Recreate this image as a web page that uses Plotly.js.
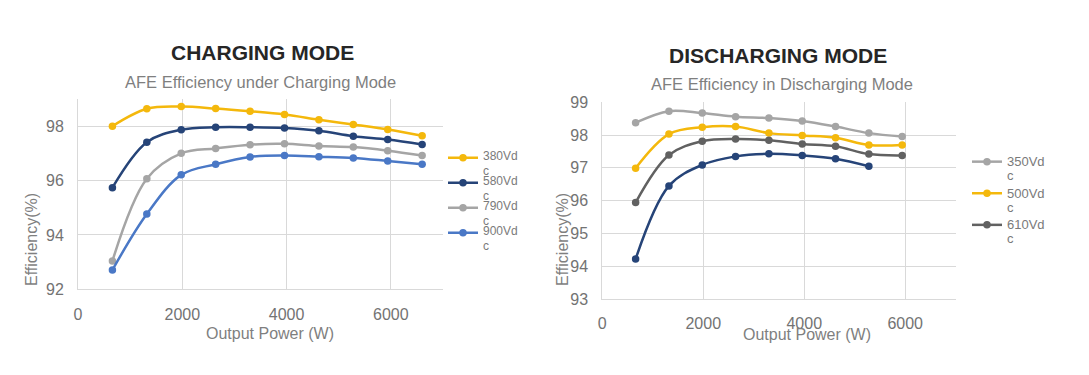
<!DOCTYPE html>
<html>
<head>
<meta charset="utf-8">
<script src="https://cdn.plot.ly/plotly-3.0.1.min.js"></script>
<style>html,body{margin:0;padding:0;background:#fff;}#chart{width:1089px;height:375px;}</style>
</head>
<body>
<div id="chart"></div>
<script>
// ---- Data ----
const chgPower = [660, 1320, 1980, 2640, 3300, 3960, 4620, 5280, 5940, 6600];
const chg380 = [98.00, 98.64, 98.72, 98.65, 98.55, 98.43, 98.24, 98.06, 97.88, 97.65];
const chg580 = [95.74, 97.41, 97.87, 97.96, 97.96, 97.93, 97.83, 97.63, 97.51, 97.33];
const chg790 = [93.04, 96.07, 97.00, 97.18, 97.32, 97.35, 97.27, 97.23, 97.10, 96.92];
const chg900 = [92.71, 94.77, 96.21, 96.60, 96.87, 96.92, 96.88, 96.83, 96.72, 96.60];

const disPower = [660, 1320, 1980, 2640, 3300, 3960, 4620, 5280, 5940];
const dis350 = [98.38, 98.73, 98.67, 98.56, 98.52, 98.43, 98.26, 98.06, 97.96];
const dis500 = [96.99, 98.03, 98.24, 98.26, 98.06, 97.99, 97.92, 97.70, 97.70];
const dis610 = [95.94, 97.39, 97.81, 97.88, 97.84, 97.73, 97.66, 97.42, 97.38];
const disUnlabeled = [94.22, 96.45, 97.09, 97.35, 97.43, 97.38, 97.28, 97.05];

const chgNames = ['380Vd', '580Vd', '790Vd', '900Vd'];
const disNames = ['350Vd', '500Vd', '610Vd'];
const nameTail = 'c';
const xTicks = [0, 2000, 4000, 6000];

// ---- Styling ----
const W = 1089, H = 375;
const px = v => v / W, py = v => 1 - v / H;
const YEL = '#F4B80C', NAVY = '#264478', GRAY = '#A5A5A5', BLUE = '#4A78C6', DGRAY = '#616161';

function legName(n, size, gapLine) {
  const s = '<span style="font-size:' + size + 'px">';
  return s + n + '</span><br>' + (gapLine ? '<br>' : '') + s + nameTail + '</span>';
}

function tr(x, y, name, color, xa, ya, leg, show) {
  return {
    x: x, y: y, name: name, type: 'scatter', mode: 'lines+markers',
    line: {color: color, width: 2.5, shape: 'spline', smoothing: 1},
    marker: {color: color, size: 7.5},
    xaxis: xa, yaxis: ya, legend: leg, showlegend: show, hoverinfo: 'skip'
  };
}

const data = [
  tr(chgPower, chg380, legName(chgNames[0], 12, true), YEL, 'x', 'y', 'legend', true),
  tr(chgPower, chg580, legName(chgNames[1], 12, true), NAVY, 'x', 'y', 'legend', true),
  tr(chgPower, chg790, legName(chgNames[2], 12, true), GRAY, 'x', 'y', 'legend', true),
  tr(chgPower, chg900, legName(chgNames[3], 12, true), BLUE, 'x', 'y', 'legend', true),
  tr(disPower, dis350, legName(disNames[0], 13, false), GRAY, 'x2', 'y2', 'legend2', true),
  tr(disPower, dis500, legName(disNames[1], 13, false), YEL, 'x2', 'y2', 'legend2', true),
  tr(disPower, dis610, legName(disNames[2], 13, false), DGRAY, 'x2', 'y2', 'legend2', true),
  tr(disPower.slice(0, disUnlabeled.length), disUnlabeled, 'dc', NAVY, 'x2', 'y2', 'legend2', false)
];

const FONT = 'Liberation Sans, Arial, sans-serif';
const tickFont = {family: FONT, size: 16, color: '#737373'};
const GRID = '#D9D9D9';

function xax(dom) {
  return {domain: dom, range: [0, 7000], tickvals: xTicks, ticktext: xTicks.map(String),
    showgrid: true, gridcolor: GRID, gridwidth: 1, zeroline: false,
    showline: true, linecolor: GRID, linewidth: 1, ticks: '', ticklabelstandoff: 10,
    tickfont: tickFont, fixedrange: true};
}
function yax(dom, range, dtick, anchor) {
  return {domain: dom, range: range, dtick: dtick, tick0: 0, anchor: anchor,
    showgrid: true, gridcolor: GRID, gridwidth: 1, zeroline: false,
    showline: true, linecolor: GRID, linewidth: 1, ticks: '', ticklabelstandoff: 10,
    tickfont: tickFont, fixedrange: true};
}

function ann(text, x, y, size, color, bold, angle) {
  return {text: bold ? '<b>' + text + '</b>' : text, x: px(x), y: py(y), xref: 'paper', yref: 'paper',
    xanchor: 'center', yanchor: 'middle', showarrow: false, textangle: angle || 0,
    font: {family: FONT, size: size, color: color}};
}

const layout = {
  width: W, height: H,
  margin: {l: 0, r: 0, t: 0, b: 0},
  paper_bgcolor: '#fff', plot_bgcolor: '#fff',
  xaxis: Object.assign(xax([px(78), px(443)]), {anchor: 'y'}),
  yaxis: yax([py(289.3), py(99)], [92, 99], 2, 'x'),
  xaxis2: Object.assign(xax([px(602.3), px(955.7)]), {anchor: 'y2'}),
  yaxis2: yax([py(299), py(102.3)], [93, 99], 1, 'x2'),
  legend: {x: px(443), y: py(147.5), xanchor: 'left', yanchor: 'top', valign: 'top',
    font: {family: FONT, size: 5.65, color: '#7a7a7a'}, bgcolor: 'rgba(0,0,0,0)', itemwidth: 30},
  legend2: {x: px(967), y: py(148), xanchor: 'left', yanchor: 'top', valign: 'top',
    font: {family: FONT, size: 11, color: '#7a7a7a'}, bgcolor: 'rgba(0,0,0,0)', itemwidth: 30},
  annotations: [
    ann('CHARGING MODE', 262, 53, 21, '#262626', true),
    ann('AFE Efficiency under Charging Mode', 260, 81.5, 16.5, '#7f7f7f'),
    ann('Output Power (W)', 270, 333, 16, '#7f7f7f'),
    ann('Efficiency(%)', 31, 240, 16, '#7f7f7f', false, -90),
    ann('DISCHARGING MODE', 778, 55, 21, '#262626', true),
    ann('AFE Efficiency in Discharging Mode', 782, 84, 16.5, '#7f7f7f'),
    ann('Output Power (W)', 807, 334, 16, '#7f7f7f'),
    ann('Efficiency(%)', 562, 240, 16, '#7f7f7f', false, -90)
  ]
};

Plotly.newPlot('chart', data, layout, {staticPlot: true, displayModeBar: false});
</script>
</body>
</html>
